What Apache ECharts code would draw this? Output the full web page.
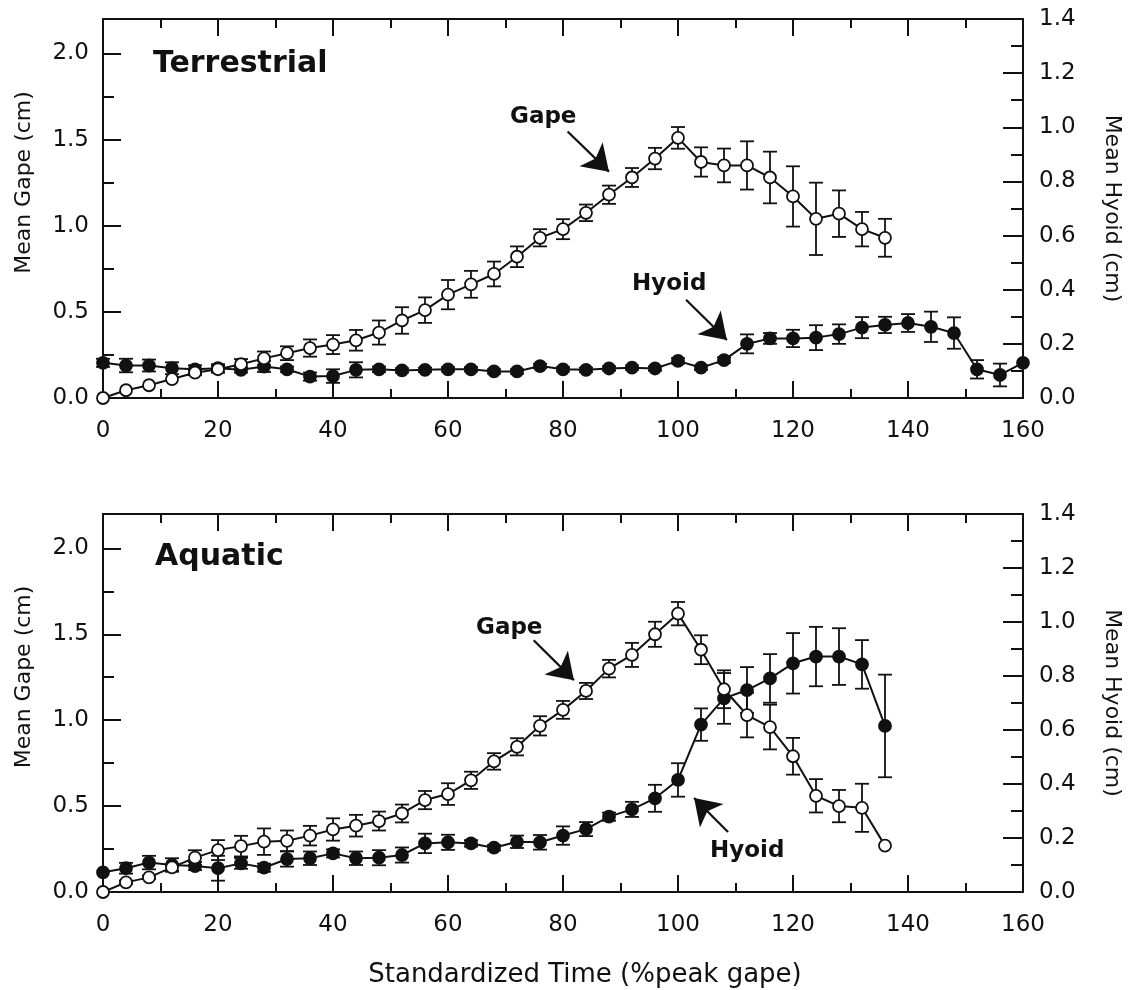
<!DOCTYPE html>
<html>
<head>
<meta charset="utf-8">
<script src="https://cdn.jsdelivr.net/npm/echarts@6/dist/echarts.min.js"></script>
<style>
  html, body { margin: 0; padding: 0; background: #fff; }
  #main { width: 1131px; height: 990px; }
</style>
</head>
<body>
<div id="main"></div>
<script>
// standardized time (% of peak gape), one point every 4%
const time = [0, 4, 8, 12, 16, 20, 24, 28, 32, 36, 40, 44, 48, 52, 56, 60, 64, 68, 72, 76, 80,
  84, 88, 92, 96, 100, 104, 108, 112, 116, 120, 124, 128, 132, 136, 140, 144, 148, 152, 156, 160]

// terrestrial
const terrGape = [0, 0.045, 0.074, 0.11, 0.147, 0.167, 0.196, 0.23, 0.26, 0.29, 0.31, 0.335, 0.38, 0.45, 0.51,
  0.60, 0.66, 0.72, 0.82, 0.93, 0.98, 1.075, 1.18, 1.28, 1.39, 1.51, 1.37, 1.35, 1.35, 1.28, 1.17, 1.04, 1.07, 0.98, 0.93]
const terrGapeErr = [0, 0, 0, 0, 0.015, 0.02, 0.03, 0.04, 0.04, 0.05, 0.055, 0.06, 0.07, 0.077, 0.074,
  0.085, 0.078, 0.072, 0.06, 0.05, 0.058, 0.048, 0.053, 0.055, 0.062, 0.063, 0.085, 0.098, 0.14, 0.15, 0.175, 0.21, 0.135, 0.1, 0.11]
const terrHyoid = [0.13, 0.12, 0.12, 0.11, 0.106, 0.11, 0.104, 0.116, 0.106, 0.079, 0.081, 0.104, 0.106, 0.102, 0.104,
  0.106, 0.106, 0.098, 0.098, 0.118, 0.106, 0.104, 0.109, 0.112, 0.109, 0.137, 0.112, 0.14, 0.2, 0.22, 0.22, 0.223,
  0.236, 0.26, 0.27, 0.277, 0.263, 0.24, 0.106, 0.085, 0.13]
const terrHyoidErr = [0.015, 0.025, 0.022, 0.022, 0.015, 0.015, 0.01, 0.02, 0.01, 0.015, 0.025, 0.028, 0.01, 0.008, 0.008,
  0.008, 0.008, 0.008, 0.008, 0.008, 0.008, 0.008, 0.008, 0.008, 0.008, 0.01, 0.008, 0.01, 0.035, 0.02, 0.032, 0.046,
  0.036, 0.039, 0.03, 0.033, 0.056, 0.058, 0.034, 0.042, 0]

// aquatic
const aquaGape = [0, 0.056, 0.085, 0.143, 0.2, 0.244, 0.267, 0.293, 0.298, 0.328, 0.364, 0.386, 0.413, 0.457, 0.535,
  0.57, 0.65, 0.76, 0.845, 0.967, 1.06, 1.17, 1.30, 1.38, 1.50, 1.62, 1.41, 1.18, 1.03, 0.96, 0.79, 0.56, 0.50, 0.49, 0.27]
const aquaGapeErr = [0, 0.01, 0.01, 0.02, 0.043, 0.058, 0.06, 0.077, 0.06, 0.057, 0.065, 0.063, 0.055, 0.052, 0.053,
  0.063, 0.05, 0.048, 0.05, 0.056, 0.052, 0.047, 0.051, 0.07, 0.073, 0.068, 0.084, 0.11, 0.13, 0.13, 0.107, 0.097, 0.094, 0.14, 0]
const aquaHyoid = [0.073, 0.088, 0.109, 0.1, 0.096, 0.088, 0.106, 0.09, 0.122, 0.125, 0.143, 0.125, 0.127, 0.137, 0.18,
  0.184, 0.18, 0.164, 0.186, 0.184, 0.209, 0.233, 0.279, 0.306, 0.347, 0.415, 0.62, 0.717, 0.748, 0.791, 0.847, 0.872,
  0.872, 0.843, 0.615]
const aquaHyoidErr = [0, 0.02, 0.025, 0.025, 0.015, 0.046, 0.02, 0.015, 0.028, 0.025, 0.015, 0.025, 0.028, 0.028, 0.036,
  0.028, 0.012, 0.01, 0.023, 0.027, 0.034, 0.026, 0.015, 0.028, 0.05, 0.062, 0.06, 0.094, 0.085, 0.09, 0.112, 0.11,
  0.105, 0.09, 0.19]

// tick labels
const gapeTicks = [0, 0.5, 1.0, 1.5, 2.0]
const timeTicks = [0, 20, 40, 60, 80, 100, 120, 140, 160]

// arrows [from, to] in (time, gape) units
const terrArrows = [[[80.8, 1.547], [88, 1.314]], [[101.4, 0.57], [108.5, 0.337]]]
const aquaArrows = [[[74.9, 1.465], [81.9, 1.233]], [[108.7, 0.349], [102.8, 0.547]]]

const ink = '#111'
const font = 'DejaVu Sans'

const pairs = (vals) => vals.map((v, i) => [time[i], v])
const withErr = (vals, errs) => vals.map((v, i) => [time[i], v, errs[i]])

function xAxes(grid, bottomName) {
  const base = {
    gridIndex: grid, type: 'value', min: 0, max: 160, interval: 20,
    axisLine: { onZero: false, lineStyle: { color: ink, width: 2 } },
    axisTick: { inside: true, length: 17, lineStyle: { color: ink, width: 2 } },
    minorTick: { show: true, splitNumber: 2, length: 9, lineStyle: { color: ink, width: 2 } },
    splitLine: { show: false }
  }
  const bottom = Object.assign({}, base, {
    position: 'bottom',
    axisLabel: { fontSize: 23, fontFamily: font, color: ink, margin: 22,
      formatter: v => timeTicks.indexOf(v) >= 0 ? String(v) : '' }
  })
  if (bottomName) {
    bottom.name = bottomName
    bottom.nameLocation = 'middle'
    bottom.nameGap = 70
    // title sits a little right of the plot centre
    bottom.nameTextStyle = { fontSize: 26, fontFamily: font, color: ink, padding: [0, 0, 0, 44] }
  }
  const top = Object.assign({}, base, { position: 'top', axisLabel: { show: false } })
  return [bottom, top]
}

function yAxes(grid) {
  return [
    {
      gridIndex: grid, type: 'value', position: 'left', min: 0, max: 2.2, interval: 0.5,
      name: 'Mean Gape (cm)', nameLocation: 'middle', nameGap: 68, nameRotate: 90,
      nameTextStyle: { fontSize: 22, fontFamily: font, color: ink, padding: [0, 0, 0, 52] },
      axisLine: { onZero: false, lineStyle: { color: ink, width: 2 } },
      axisTick: { inside: true, length: 18, lineStyle: { color: ink, width: 2 } },
      axisLabel: { fontSize: 23, fontFamily: font, color: ink, margin: 14,
        formatter: v => gapeTicks.indexOf(v) >= 0 ? v.toFixed(1) : '' },
      splitLine: { show: false }
    },
    {
      // quarter-cm minor ticks on the gape axis
      gridIndex: grid, type: 'value', position: 'left', min: 0, max: 2.2, interval: 0.25,
      axisLine: { show: false, onZero: false },
      axisTick: { inside: true, length: 11, lineStyle: { color: ink, width: 2 } },
      axisLabel: { show: false },
      splitLine: { show: false }
    },
    {
      gridIndex: grid, type: 'value', position: 'right', min: 0, max: 1.4, interval: 0.2,
      name: 'Mean Hyoid (cm)', nameLocation: 'middle', nameGap: 78, nameRotate: -90,
      nameTextStyle: { fontSize: 22, fontFamily: font, color: ink },
      axisLine: { onZero: false, lineStyle: { color: ink, width: 2 } },
      axisTick: { inside: true, length: 20, lineStyle: { color: ink, width: 2 } },
      minorTick: { show: true, splitNumber: 2, length: 12, lineStyle: { color: ink, width: 2 } },
      axisLabel: { fontSize: 23, fontFamily: font, color: ink, margin: 16, formatter: v => v.toFixed(1) },
      splitLine: { show: false }
    }
  ]
}

function errorBars(data, xi, yi) {
  return {
    type: 'custom', xAxisIndex: xi, yAxisIndex: yi, z: 2, silent: true, clip: false,
    data: data,
    renderItem: function (params, api) {
      const x = api.value(0), y = api.value(1), e = api.value(2)
      if (!e) return
      const lo = api.coord([x, y - e])
      const hi = api.coord([x, y + e])
      const w = 7
      const st = { stroke: ink, lineWidth: 1.8 }
      return {
        type: 'group',
        children: [
          { type: 'line', shape: { x1: lo[0], y1: lo[1], x2: hi[0], y2: hi[1] }, style: st },
          { type: 'line', shape: { x1: lo[0] - w, y1: lo[1], x2: lo[0] + w, y2: lo[1] }, style: st },
          { type: 'line', shape: { x1: hi[0] - w, y1: hi[1], x2: hi[0] + w, y2: hi[1] }, style: st }
        ]
      }
    }
  }
}

function lineSeries(name, vals, xi, yi, open, arrows) {
  const s = {
    name: name, type: 'line', xAxisIndex: xi, yAxisIndex: yi, z: open ? 4 : 3, clip: false,
    data: pairs(vals),
    symbol: 'circle', symbolSize: 12,
    lineStyle: { color: ink, width: 2 },
    itemStyle: { color: open ? '#fff' : ink, borderColor: ink, borderWidth: 1.8 },
    emphasis: { disabled: true }
  }
  if (arrows) {
    s.markLine = {
      silent: true, symbol: ['none', 'arrow'], symbolSize: 25,
      lineStyle: { color: ink, width: 2.2, type: 'solid' },
      itemStyle: { color: ink },
      label: { show: false },
      emphasis: { disabled: true },
      data: arrows.map(a => [{ coord: a[0] }, { coord: a[1] }])
    }
  }
  return s
}

function tag(text, x, y, size) {
  return {
    type: 'text', x: x, y: y, z: 10,
    style: { text: text, font: 'bold ' + size + 'px "' + font + '"', fill: ink, verticalAlign: 'middle' }
  }
}

const chart = echarts.init(document.getElementById('main'))
chart.setOption({
  animation: false,
  backgroundColor: '#fff',
  grid: [
    { left: 103, top: 19, width: 920, height: 379, outerBoundsMode: 'none' },
    { left: 103, top: 514, width: 920, height: 378, outerBoundsMode: 'none' }
  ],
  xAxis: xAxes(0).concat(xAxes(1, 'Standardized Time (%peak gape)')),
  yAxis: yAxes(0).concat(yAxes(1)),
  graphic: [
    tag('Terrestrial', 153, 64, 30),
    tag('Gape', 510, 117, 23),
    tag('Hyoid', 632, 284, 23),
    tag('Aquatic', 155, 557, 30),
    tag('Gape', 476, 628, 23),
    tag('Hyoid', 710, 851, 23)
  ],
  series: [
    errorBars(withErr(terrHyoid, terrHyoidErr), 0, 2),
    errorBars(withErr(terrGape, terrGapeErr), 0, 0),
    lineSeries('Hyoid', terrHyoid, 0, 2, false),
    lineSeries('Gape', terrGape, 0, 0, true, terrArrows),
    errorBars(withErr(aquaHyoid, aquaHyoidErr), 2, 5),
    errorBars(withErr(aquaGape, aquaGapeErr), 2, 3),
    lineSeries('Hyoid', aquaHyoid, 2, 5, false),
    lineSeries('Gape', aquaGape, 2, 3, true, aquaArrows)
  ]
})
</script>
</body>
</html>
